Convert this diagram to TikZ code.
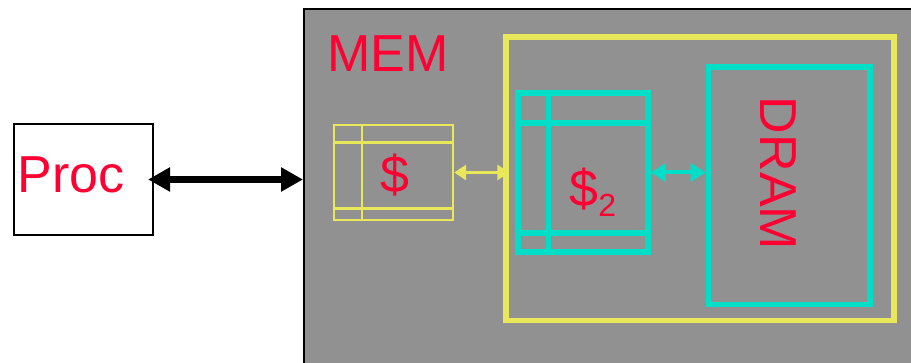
\documentclass[tikz,border=0pt]{standalone}
\usepackage{fontspec}
\setmainfont{Liberation Sans}
\usetikzlibrary{arrows.meta}
\definecolor{memgray}{RGB}{145,145,145}
\definecolor{txtred}{RGB}{255,0,51}
\definecolor{lyellow}{RGB}{232,232,90}
\definecolor{lcyan}{RGB}{0,222,200}
\begin{document}
\begin{tikzpicture}[x=0.5pt, y=-0.5pt,
  box/.style={draw, rectangle, inner sep=0pt},
  lbl/.style={text=txtred, inner sep=0pt, font=\fontsize{26}{30}\selectfont}]
\useasboundingbox (0,0) rectangle (911,363);
\clip (0,0) rectangle (911,363);
\node[box, fill=memgray, line width=1pt, minimum width=313pt, minimum height=185.5pt] (mem) at (617,194.5) {};
\node[lbl, anchor=west] (memlabel) at (327,53.5) {MEM};
\node[box, fill=white, line width=1.1pt, minimum width=69.5pt, minimum height=55.5pt] (proc) at (83.5,179.5) {};
\node[lbl, anchor=west] (proclabel) at (17,175) {Proc};
\node[box, draw=lyellow, line width=1.2pt, minimum width=59.5pt, minimum height=47.5pt] (c1) at (393.5,172.5) {};
\draw[lyellow, line width=1.2pt] (362,125) -- (362,220);
\draw[lyellow, line width=1.2pt] (334,142.5) -- (453,142.5);
\draw[lyellow, line width=1.2pt] (334,208.5) -- (453,208.5);
\node[lbl] (c1label) at (395,175) {\$};
\node[box, draw=lyellow, line width=2.75pt, minimum width=194pt, minimum height=141.75pt] (l2) at (700,178.75) {};
\node[box, draw=lcyan, line width=2.8pt, minimum width=65pt, minimum height=79.5pt] (c2) at (583,172.5) {};
\draw[lcyan, line width=2.8pt] (548.3,93) -- (548.3,252);
\draw[lcyan, line width=2.8pt] (518,123) -- (648,123);
\draw[lcyan, line width=2.8pt] (518,233) -- (648,233);
\node[lbl, anchor=base west] (c2label) at (569,207) {\$\raisebox{-5pt}{\fontsize{16}{18}\selectfont 2}};
\node[box, draw=lcyan, line width=2.8pt, minimum width=80.75pt, minimum height=118.75pt] (dram) at (789.25,185.75) {};
\node[lbl, rotate=-90] (dramlabel) at (778,173.5) {DRAM};
\draw[{Triangle[length=11pt,width=11.5pt]}-{Triangle[length=11pt,width=11.5pt]}, line width=3.3pt, shorten <=-3pt] (proc.east) -- (proc.east -| mem.west);
\draw[{Triangle[length=6pt,width=7.5pt]}-{Triangle[length=6pt,width=7.5pt]}, lyellow, line width=1.6pt, shorten >=-3pt] (c1.east) -- (c1.east -| l2.west);
\draw[{Triangle[length=7.5pt,width=9pt]}-{Triangle[length=7.5pt,width=9pt]}, lcyan, line width=2pt] (c2.east) -- (c2.east -| dram.west);
\end{tikzpicture}
\end{document}
